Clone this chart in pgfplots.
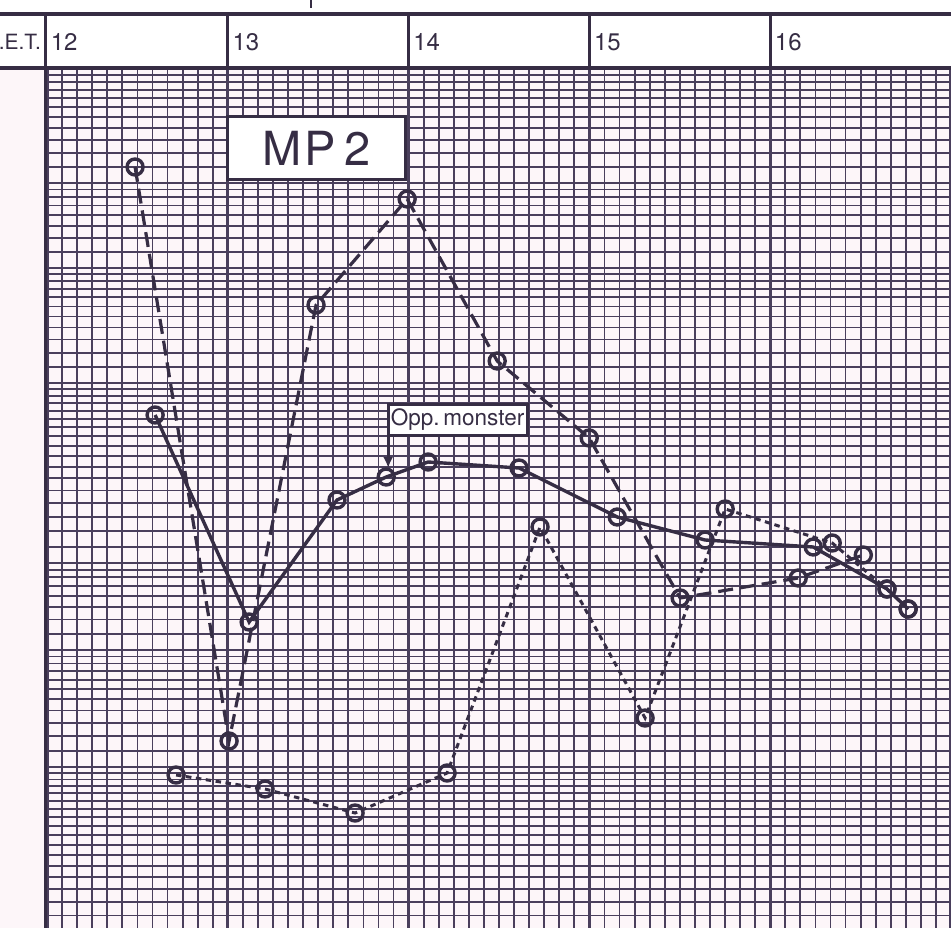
\documentclass[border=0pt]{standalone}
\usepackage{pgfplots}
\pgfplotsset{compat=1.18}
\usetikzlibrary{arrows.meta}
\usepackage{fontspec}
\setmainfont{TeX Gyre Heros}
\definecolor{ink}{HTML}{362D44}
\definecolor{gridc}{HTML}{4A3F5C}
\definecolor{paper}{HTML}{FDF6F9}

% horizontal ruling of the chart paper (bands of lines that widen downwards)
\def\ylist{0}
\foreach \ys/\ye in {69/183,183/268,268/383,383/563,563/650,650/767,767/960}{%
  \pgfmathtruncatemacro\N{round((\ye-\ys)/10.3)}%
  \pgfmathtruncatemacro\Nm{\N-1}%
  \foreach \k in {0,...,\Nm}{%
    \pgfmathsetmacro\yy{\ys+(\ye-\ys)*(exp(\k/\N)-1)/(exp(1)-1)}%
    \xdef\ylist{\ylist,\yy}%
  }%
}

\pgfplotstableread{
t y
12.598 415
13.118 622
13.604 500
13.876 477
14.108 462
14.611 468
15.154 517
15.640 540
16.238 547
16.646 589
16.763 609
}\solid

\pgfplotstableread{
t y
12.487 167
13.007 741
13.488 305
13.992 199
14.490 361
14.999 438
15.502 598
16.155 578
16.515 555
}\dashed

\pgfplotstableread{
t y
12.714 775
13.206 789
13.704 813
14.213 773
14.727 527
15.308 718
15.751 509
16.343 543
16.646 589
16.763 609
}\dotted

\begin{document}
\begin{tikzpicture}
\useasboundingbox (0,0) rectangle (951pt,928pt);
\clip (0,0) rectangle (951pt,928pt);
\begin{axis}[
  at={(0,0)}, anchor=south west, scale only axis,
  width=951pt, height=928pt,
  xmin=11.740, xmax=17.0, ymin=0, ymax=928, y dir=reverse,
  axis background/.style={fill=paper},
  axis line style={draw=none}, tick style={draw=none},
  xticklabels={}, yticklabels={},
  xtick={12,13,14,15,16,17}, minor x tick num=11,
  ytick/.expanded={\ylist},
  xmajorgrids, xminorgrids, ymajorgrids,
  major x grid style={gridc, line width=3.2pt},
  minor x grid style={gridc, line width=1.8pt},
  major y grid style={gridc, line width=1.8pt},
  clip=false,
]
% header strip and left margin
\fill[white] (axis cs:11.74,0) rectangle (axis cs:17,68);
\fill[paper] (axis cs:11.74,68) rectangle (axis cs:11.99,928);
\draw[ink, line width=3.8pt] (axis cs:11.74,14) -- (axis cs:17,14);
\draw[ink, line width=3.8pt] (axis cs:11.74,68) -- (axis cs:17,68);
\draw[ink, line width=3.2pt] (axis cs:11.99,14) -- (axis cs:11.99,928);
\draw[ink, line width=3.2pt] (axis cs:13,14) -- (axis cs:13,68);
\draw[ink, line width=3.2pt] (axis cs:14,14) -- (axis cs:14,68);
\draw[ink, line width=3.2pt] (axis cs:15,14) -- (axis cs:15,68);
\draw[ink, line width=3.2pt] (axis cs:16,14) -- (axis cs:16,68);
\draw[ink, line width=2pt] (axis cs:13.46,0) -- (axis cs:13.46,8);
\begin{scope}[every node/.style={text=ink, font=\fontsize{24}{24}\selectfont}]
\node[anchor=east, inner sep=0pt, font=\fontsize{21}{21}\selectfont] at (axis cs:11.968,42) {.E.T.};
\node[anchor=west, inner sep=0pt] at (axis cs:12.02,42) {12};
\node[anchor=west, inner sep=0pt] at (axis cs:13.025,42) {13};
\node[anchor=west, inner sep=0pt] at (axis cs:14.025,42) {14};
\node[anchor=west, inner sep=0pt] at (axis cs:15.025,42) {15};
\node[anchor=west, inner sep=0pt] at (axis cs:16.025,42) {16};
\end{scope}

\addplot[ink, line width=3.4pt, mark=o,
  mark options={solid, line width=3.4pt, fill=paper}, mark size=8pt]
  table[x=t, y=y] {\solid};
\addplot[ink, line width=3.2pt, dash pattern=on 15pt off 7pt, mark=o,
  mark options={solid, line width=3.4pt, fill=paper}, mark size=8pt]
  table[x=t, y=y] {\dashed};
\addplot[ink, line width=3pt, dash pattern=on 5.5pt off 4.5pt, mark=o,
  mark options={solid, line width=3.4pt, fill=paper}, mark size=8pt]
  table[x=t, y=y] {\dotted};

% MP 2 label
\node[draw=ink, line width=3.4pt, fill=white, minimum width=178pt, minimum height=63pt,
  text=ink, font=\fontsize{47}{47}\selectfont, inner sep=0pt]
  at (axis cs:13.492,148) {M\kern2ptP\kern9pt2};
% Opp. monster label with arrow
\draw[ink, line width=2.8pt, -{Latex[length=11pt,width=10pt]}] (axis cs:13.887,434) -- (axis cs:13.887,468);
\node[draw=ink, line width=2.8pt, fill=white, minimum width=139pt, minimum height=31pt,
  text=ink, font=\fontsize{22.5}{22.5}\selectfont, inner sep=0pt]
  at (axis cs:14.271,420) {Opp.\,monster};
\end{axis}
\end{tikzpicture}
\end{document}
